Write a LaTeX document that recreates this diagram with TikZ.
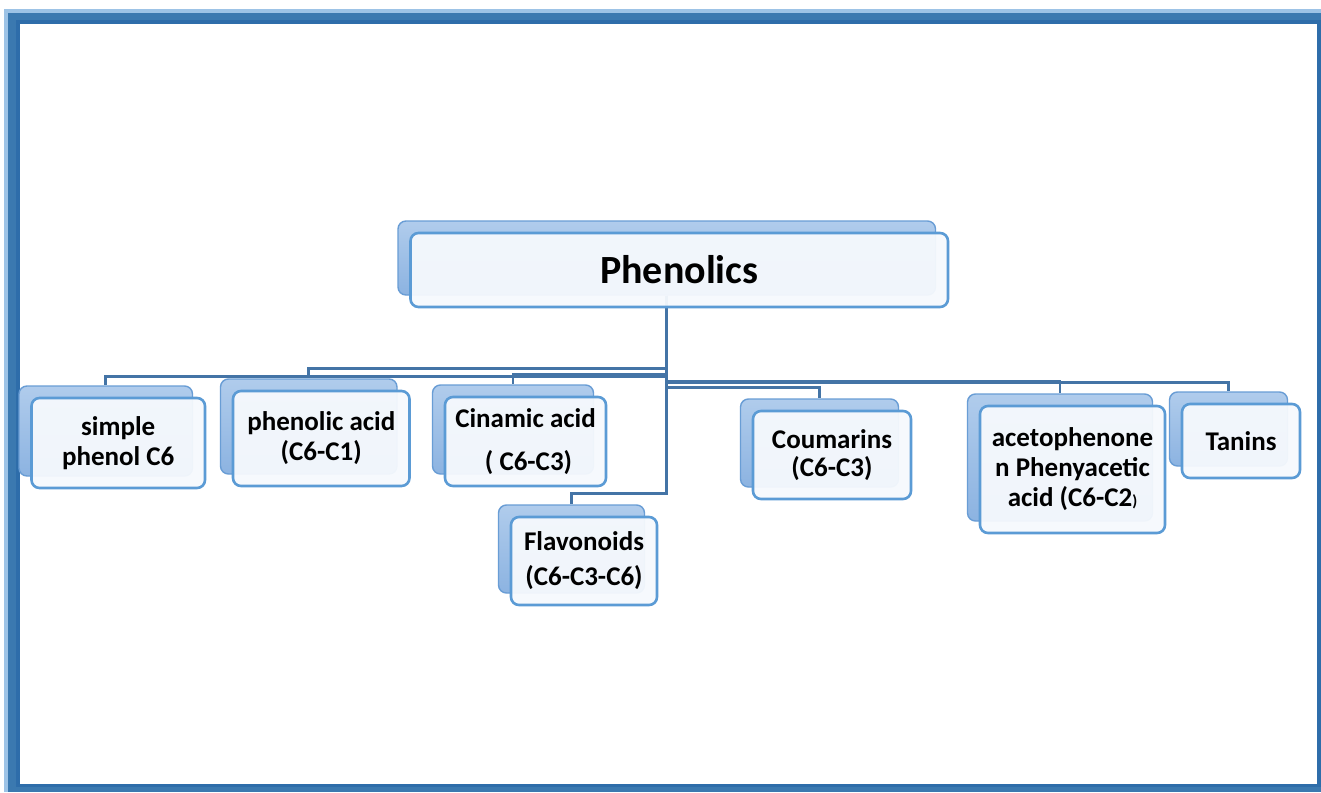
\documentclass[tikz,border=0pt]{standalone}
\usepackage{fontspec}
\setmainfont{Carlito}
\usetikzlibrary{calc}
\definecolor{frlight}{RGB}{157,195,230}
\definecolor{frmid}{RGB}{59,121,176}
\definecolor{frdark}{RGB}{46,109,170}
\definecolor{conn}{RGB}{68,116,166}
\definecolor{bktop}{RGB}{176,204,236}
\definecolor{bkbot}{RGB}{140,179,225}
\definecolor{bkline}{RGB}{105,157,213}
\definecolor{frontfill}{RGB}{246,249,253}
\definecolor{frontline}{RGB}{91,155,213}
\begin{document}
\begin{tikzpicture}[x=1pt,y=-1pt,
  backbox/.style={draw=bkline, line width=1.4pt, rounded corners=8pt, top color=bktop, bottom color=bkbot, inner sep=0pt},
  frontbox/.style={draw=frontline, line width=2.6pt, rounded corners=8pt, fill=frontfill, fill opacity=0.95, text opacity=1, inner sep=0pt, align=center, font=\fontsize{27}{30}\selectfont\bfseries},
  connector/.style={draw=conn, line width=2.8pt}]
\useasboundingbox (0,0) rectangle (1321,792);
% frame
\fill[white] (0,0) rectangle (1321,792);
\fill[frlight] (4,9) rectangle (1321,792);
\fill[frmid] (8,13) rectangle (1321,792);
\fill[frdark] (16,20) rectangle (1321,787);
\fill[white] (20,24) rectangle (1317,784);
% centres of the front boxes
\coordinate (cph) at (679.25,270);
\coordinate (csp) at (118.25,443);
\coordinate (cpa) at (321.25,438.5);
\coordinate (cca) at (525.5,441.5);
\coordinate (cfl) at (584,561);
\coordinate (cco) at (832,455);
\coordinate (cac) at (1072.5,469.5);
\coordinate (cta) at (1241,441);
% back boxes
\node[backbox, minimum width=537.5pt, minimum height=74pt] (phb) at ($(cph)+(-12.5,-12)$) {};
\node[backbox, minimum width=173.5pt, minimum height=90pt] (spb) at ($(csp)+(-12.5,-12)$) {};
\node[backbox, minimum width=176.5pt, minimum height=95pt] (pab) at ($(cpa)+(-12.5,-12)$) {};
\node[backbox, minimum width=161pt, minimum height=89pt] (cab) at ($(cca)+(-12.5,-12)$) {};
\node[backbox, minimum width=146pt, minimum height=88pt] (flb) at ($(cfl)+(-12.5,-12)$) {};
\node[backbox, minimum width=158pt, minimum height=88pt] (cob) at ($(cco)+(-12.5,-12)$) {};
\node[backbox, minimum width=185pt, minimum height=127pt] (acb) at ($(cac)+(-12.5,-12)$) {};
\node[backbox, minimum width=118pt, minimum height=74pt] (tab) at ($(cta)+(-12.5,-12)$) {};
% connectors
\draw[connector] (phb.south) -- ++(0,81) -| (spb.north);
\draw[connector] (phb.south) -- ++(0,73) -| (pab.north);
\draw[connector] (phb.south) -- ++(0,79) -| (cab.north);
\draw[connector] (phb.south) -- ++(0,198) -| (flb.north);
\draw[connector] (phb.south) -- ++(0,92) -| (cob.north);
\draw[connector] (phb.south) -- ++(0,86) -| (acb.north);
\draw[connector] (phb.south) -- ++(0,87) -| (tab.north);
% front boxes
\node[frontbox, minimum width=537.5pt, minimum height=74pt, font=\fontsize{40}{44}\selectfont\bfseries] (ph) at (cph) {Phenolics};
\node[frontbox, minimum width=173.5pt, minimum height=90pt] (sp) at (csp) {simple\\phenol C6};
\node[frontbox, minimum width=176.5pt, minimum height=95pt] (pa) at (cpa) {phenolic acid\\(C6-C1)};
\node[frontbox, minimum width=161pt, minimum height=89pt] (ca) at (cca) {Cinamic acid\\[13pt]\ ( C6-C3)};
\node[frontbox, minimum width=146pt, minimum height=88pt] (fl) at (cfl) {Flavonoids\\[5pt](C6-C3-C6)};
\node[frontbox, minimum width=158pt, minimum height=88pt] (co) at (cco) {Coumarins\\[-2pt](C6-C3)};
\node[frontbox, minimum width=185pt, minimum height=127pt] (ac) at (cac) {acetophenone\\n Phenyacetic\\acid (C6-C2{\fontsize{16}{16}\selectfont)}};
\node[frontbox, minimum width=118pt, minimum height=74pt] (ta) at (cta) {Tanins};
\end{tikzpicture}
\end{document}
